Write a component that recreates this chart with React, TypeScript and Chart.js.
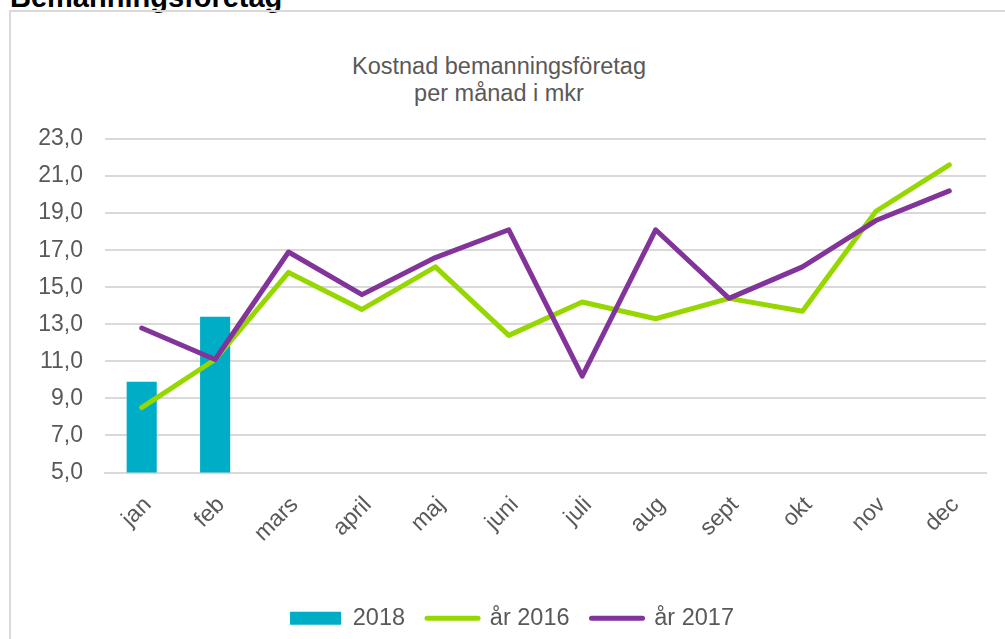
import React, { useEffect, useRef } from "react";
import { Chart, registerables } from "chart.js";

Chart.register(...registerables);

const months = ["jan", "feb", "mars", "april", "maj", "juni", "juli", "aug", "sept", "okt", "nov", "dec"];
const values2018 = [9.9, 13.4, null, null, null, null, null, null, null, null, null, null];
const values2016 = [8.5, 11.1, 15.8, 13.8, 16.1, 12.4, 14.2, 13.3, 14.4, 13.7, 19.1, 21.6];
const values2017 = [12.8, 11.1, 16.9, 14.6, 16.6, 18.1, 10.2, 18.1, 14.4, 16.1, 18.6, 20.2];
const seriesLabels = ["2018", "år 2016", "år 2017"];
const yMin = 5;
const yMax = 23;
const yStep = 2;

const colorBar = "#00adc6";
const color2016 = "#97d700";
const color2017 = "#82349b";
const textColor = "#595959";
const gridColor = "#d9d9d9";
const FONT = "'Liberation Sans', Arial, sans-serif";

export default function App() {
  const ref = useRef<HTMLCanvasElement | null>(null);

  useEffect(() => {
    if (!ref.current) return;
    const chart = new Chart(ref.current, {
      type: "bar",
      data: {
        labels: months,
        datasets: [
          {
            type: "bar",
            label: seriesLabels[0],
            data: values2018,
            backgroundColor: colorBar,
            borderWidth: 0,
            categoryPercentage: 1,
            barPercentage: 0.41,
            order: 3,
          } as any,
          {
            type: "line",
            label: seriesLabels[1],
            data: values2016,
            borderColor: color2016,
            backgroundColor: color2016,
            borderWidth: 5,
            pointRadius: 0,
            borderCapStyle: "round",
            borderJoinStyle: "round",
            tension: 0,
            order: 2,
          } as any,
          {
            type: "line",
            label: seriesLabels[2],
            data: values2017,
            borderColor: color2017,
            backgroundColor: color2017,
            borderWidth: 5,
            pointRadius: 0,
            borderCapStyle: "round",
            borderJoinStyle: "round",
            tension: 0,
            order: 1,
          } as any,
        ],
      },
      options: {
        animation: false,
        responsive: false,
        layout: { padding: { left: 27, right: 35, top: 127, bottom: 0 } },
        plugins: {
          title: { display: false },
          tooltip: { enabled: false },
          legend: {
            position: "bottom",
            labels: {
              usePointStyle: true,
              pointStyleWidth: 51,
              boxHeight: 13,
              padding: 22,
              color: textColor,
              font: { family: FONT, size: 23.5 },
              generateLabels: (c: any) =>
                c.data.datasets.map((ds: any, i: number) => {
                  const isBar = ds.type === "bar";
                  const col = isBar ? colorBar : ds.borderColor;
                  return {
                    text: ds.label,
                    fillStyle: col,
                    strokeStyle: col,
                    lineWidth: isBar ? 0 : 5,
                    lineCap: "round",
                    pointStyle: isBar ? "rect" : "line",
                    hidden: !c.isDatasetVisible(i),
                    datasetIndex: i,
                    fontColor: textColor,
                  };
                }),
            },
          },
        },
        scales: {
          x: {
            grid: { display: false, drawTicks: false },
            border: { display: true, color: gridColor, width: 2 },
            afterFit: (scale: any) => {
              scale.height = 112;
              scale.paddingLeft = 0;
              scale.paddingRight = 0;
            },
            ticks: {
              color: textColor,
              font: { family: FONT, size: 23 },
              minRotation: 45,
              maxRotation: 45,
              padding: 19,
              labelOffset: 6,
              autoSkip: false,
            },
          },
          y: {
            min: yMin,
            max: yMax,
            afterFit: (scale: any) => {
              scale.width = 67;
            },
            grid: { color: gridColor, lineWidth: 2, drawTicks: false },
            border: { display: false },
            ticks: {
              stepSize: yStep,
              color: textColor,
              padding: 22,
              font: { family: FONT, size: 23 },
              callback: (v: any) => Number(v).toFixed(1).replace(".", ","),
            },
          },
        },
      } as any,
    });
    return () => chart.destroy();
  }, []);

  return (
    <div
      style={{
        position: "absolute",
        left: 0,
        top: 0,
        width: 1005,
        height: 639,
        overflow: "hidden",
        background: "#fff",
        fontFamily: FONT,
      }}
    >
      <div
        style={{
          position: "absolute",
          left: 10,
          top: -17,
          fontSize: 29,
          lineHeight: "29px",
          fontWeight: "bold",
          color: "#000",
          whiteSpace: "nowrap",
        }}
      >
        Bemanningsföretag
      </div>
      <div
        style={{
          position: "absolute",
          left: 9,
          top: 10,
          width: 1010,
          height: 650,
          borderTop: `2px solid ${gridColor}`,
          borderLeft: `2px solid ${gridColor}`,
          boxSizing: "border-box",
        }}
      />
      <div
        style={{
          position: "absolute",
          left: 299,
          top: 53,
          width: 400,
          textAlign: "center",
          fontSize: 23.5,
          lineHeight: "27px",
          color: textColor,
        }}
      >
        Kostnad bemanningsföretag
        <br />
        per månad i mkr
      </div>
      <canvas
        ref={ref}
        width={1010}
        height={628}
        style={{ position: "absolute", left: 11, top: 12, width: 1010, height: 628 }}
      />
    </div>
  );
}
